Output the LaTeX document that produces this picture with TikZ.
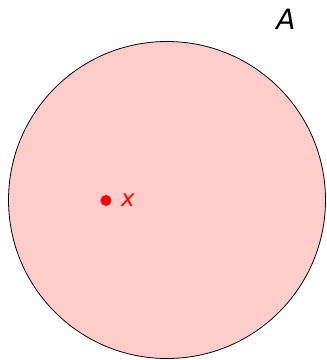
\documentclass[tikz,border=0pt]{standalone}
\usepackage{fontspec}
\setmainfont{DejaVu Sans}
\definecolor{setfill}{HTML}{FFCCCC}
\tikzset{
  setcircle/.style={draw=black, line width=0.8pt, fill=setfill},
  pointdot/.style={circle, fill=red, inner sep=0pt, minimum size=11pt},
  lbl/.style={inner sep=0pt, font=\itshape}
}
\begin{document}
\begin{tikzpicture}[x=1pt,y=-1pt]
\useasboundingbox (0,0) rectangle (327,360);
\node[setcircle, circle, minimum size=317pt, inner sep=0pt] (A) at (167,200) {};
\node[lbl, font=\itshape\fontsize{28}{30}\selectfont] (lA) at (286,19) {A};
\node[pointdot] (p) at (106,200.5) {};
\node[lbl, text=red, font=\itshape\fontsize{23}{26}\selectfont] (lx) at (128,200.5) {x};
\end{tikzpicture}
\end{document}
